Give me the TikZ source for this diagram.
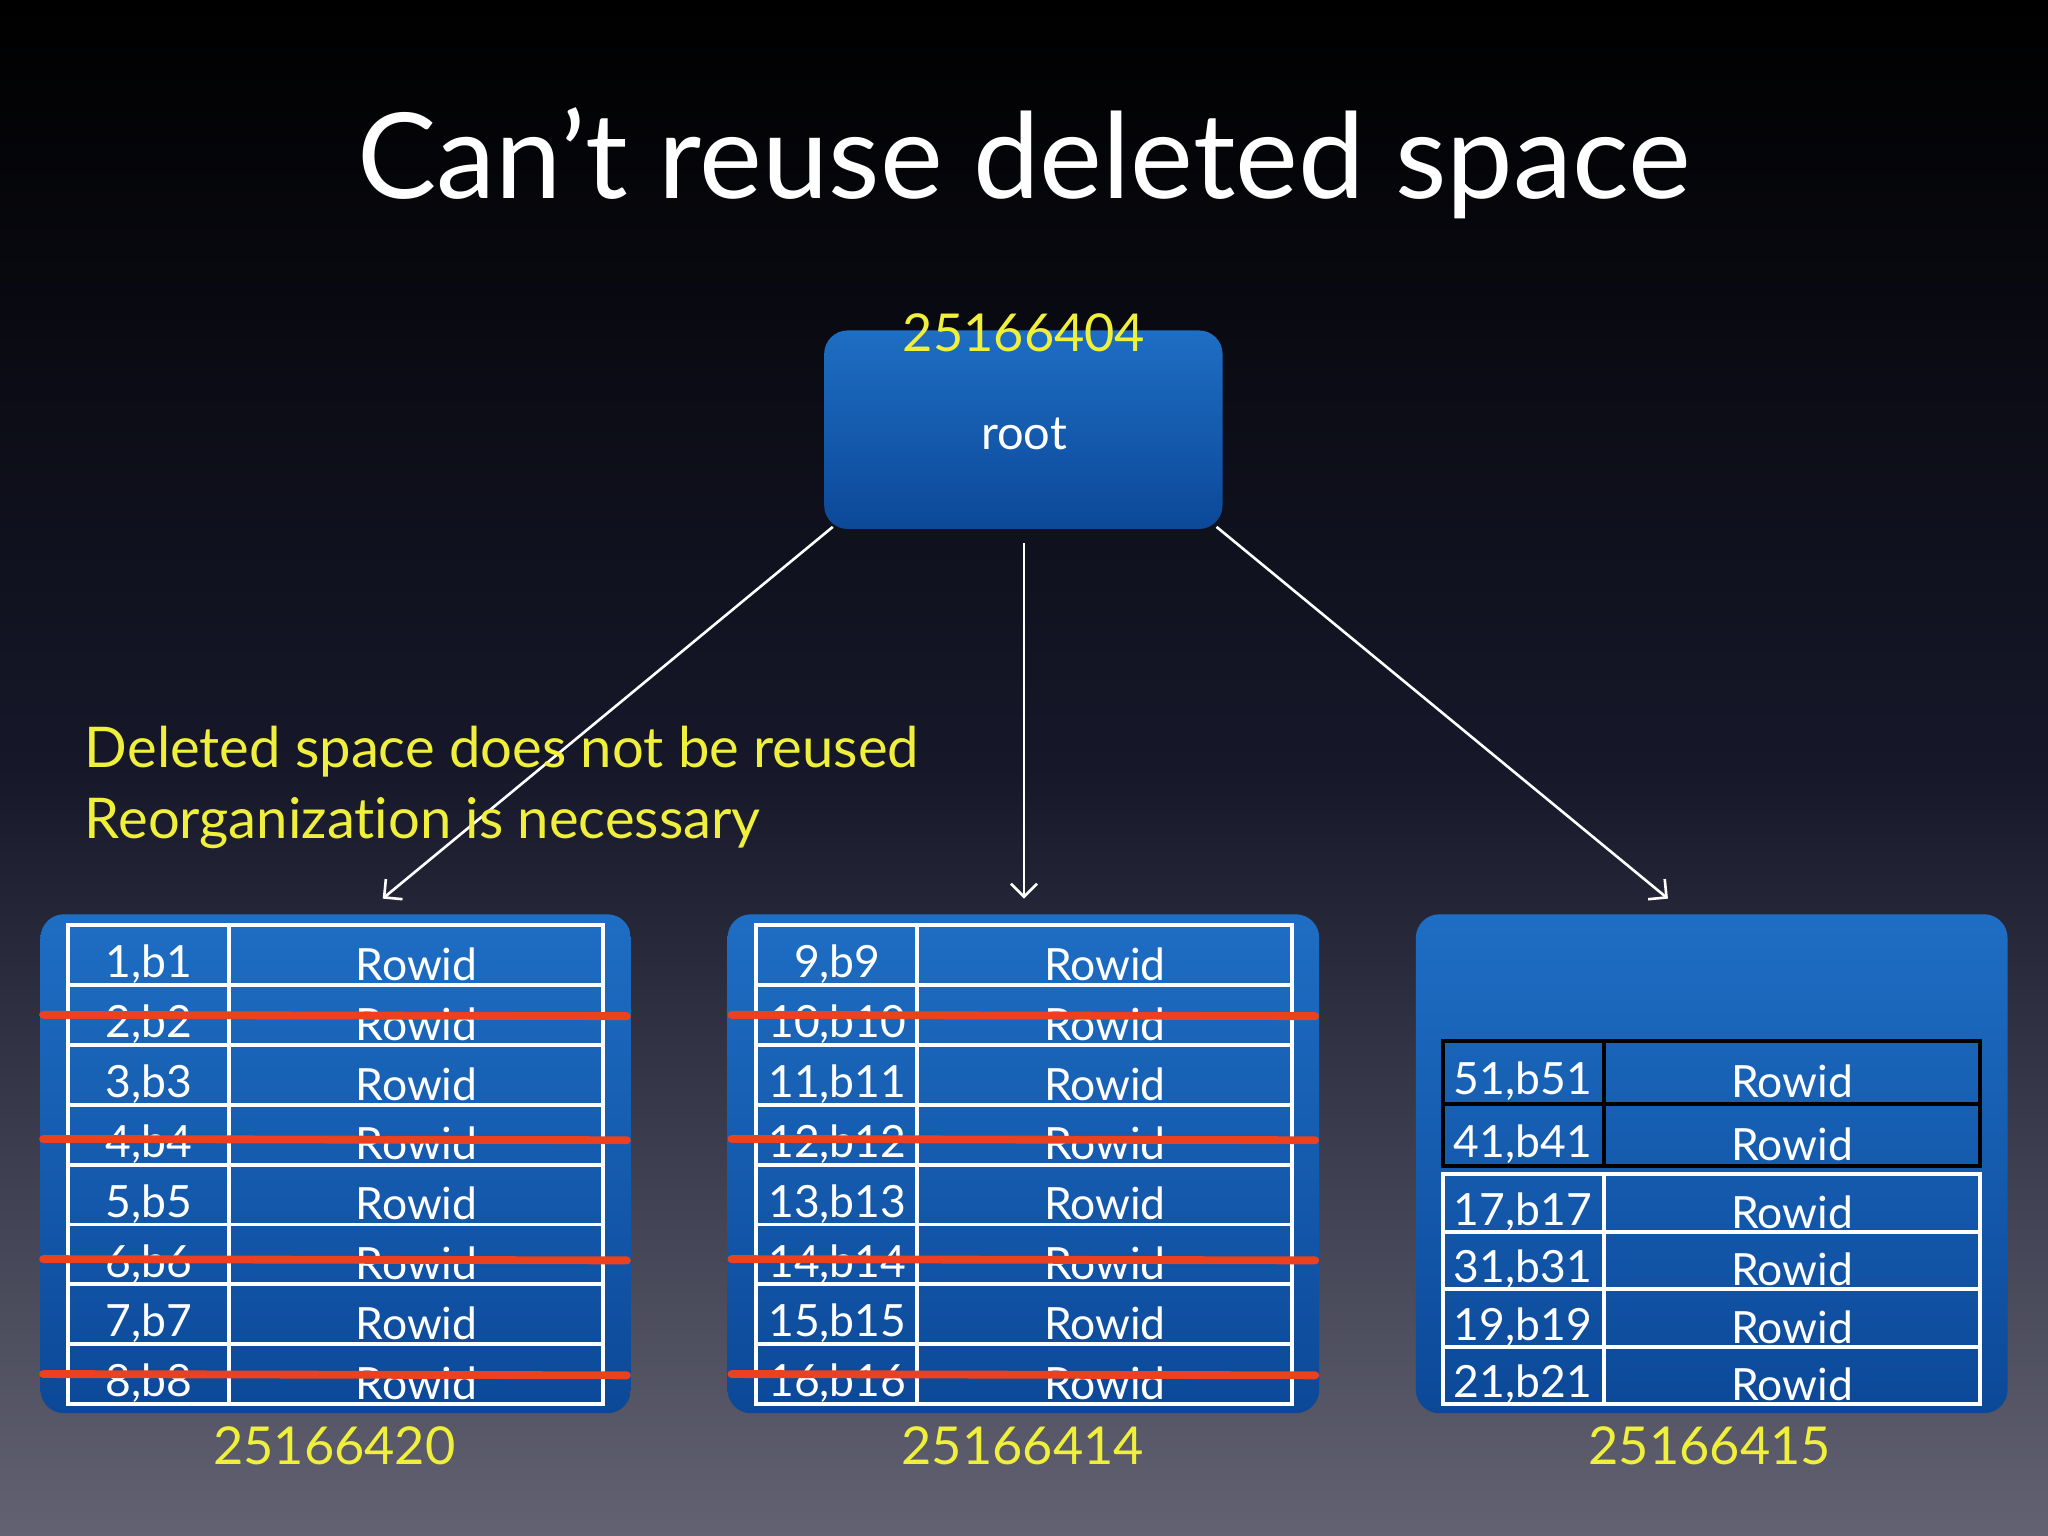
\documentclass[tikz,border=0pt]{standalone}
\usepackage{fontspec}
\setmainfont{Lato}[Ligatures=NoCommon]
\begin{document}
\begin{tikzpicture}[x=0.5pt,y=-0.5pt,
  blk/.style={rounded corners=9pt,top color=blue1,bottom color=blue2,draw=none},
  yel/.style={text=ylw,font=\fontsize{20}{24}\selectfont},
  cell/.style={text=white,font=\fontsize{17}{20}\selectfont},
  arr/.style={white,line width=1pt,-{Straight Barb[length=5pt]}},
  strike/.style={strk,line width=3pt,line cap=round}]
\definecolor{blue1}{RGB}{30,110,196}
\definecolor{blue2}{RGB}{12,72,152}
\definecolor{ylw}{RGB}{240,240,60}
\definecolor{strk}{RGB}{235,65,30}
\usetikzlibrary{arrows.meta}
\shade[top color=black,bottom color={rgb,255:red,98;green,98;blue,114},middle color={rgb,255:red,22;green,24;blue,42}] (0,0) rectangle (1568,1176);
\useasboundingbox (0,0) rectangle (1568,1176);
\node[text=white,font=\fontsize{45.5}{52}\selectfont] (title) at (784,125) {Can’t reuse deleted space};
% root
\node[blk,minimum width=152.5pt,minimum height=76pt] (root) at (783.5,329) {};
\node[text=white,font=\fontsize{18}{22}\selectfont] (rootlbl) at (784,332) {root};
\node[yel] (rootnum) at (784,255) {25166404};
% boxes
\node[blk,minimum width=226pt,minimum height=191pt] (bl) at (257,891) {};
\node[blk,minimum width=226.5pt,minimum height=191pt] (bm) at (783.5,891) {};
\node[blk,minimum width=226.5pt,minimum height=191pt] (br) at (1310.5,891) {};
\coordinate (tl) at (293,688);
\coordinate (tm) at (784,688);
\coordinate (tr) at (1277,688);
\draw[arr] (root.south west)++(7,-2) -- (tl);
\draw[arr] (784,416) -- (tm);
\draw[arr] (root.south east)++(-5,-2) -- (tr);
\node[yel,anchor=west,align=left,font=\fontsize{21.5}{27}\selectfont] (note) at (58,603) {Deleted space does not be reused\\Reorganization is necessary};
% tables
\foreach \x/\s in {52/1,579/9}{
  \foreach \i in {0,...,7}{
    \pgfmathtruncatemacro{\n}{\s+\i}
    \pgfmathsetmacro{\y}{708+\i*45.9}
    \draw[white,line width=1.5pt] (\x,\y) rectangle (\x+410,\y+45.9);
    \draw[white,line width=1.5pt] (\x+123,\y) -- (\x+123,\y+45.9);
    \node[cell] at (\x+62,\y+30) {\n,b\n};
    \node[cell] at (\x+267,\y+30) {Rowid};
  }
}
\foreach \x in {33,560}{
  \foreach \y in {777,872,964,1052}{
    \draw[strike] (\x,\y) -- (\x+447,\y+1);
  }
}
% right box
\foreach \i/\k in {0/51,1/41}{
  \pgfmathsetmacro{\y}{797+\i*48}
  \draw[black,line width=1.5pt] (1105,\y) rectangle (1516,\y+48);
  \draw[black,line width=1.5pt] (1228,\y) -- (1228,\y+48);
  \node[cell] at (1166,\y+31) {\k,b\k};
  \node[cell] at (1372,\y+31) {Rowid};
}
\foreach \i/\k in {0/17,1/31,2/19,3/21}{
  \pgfmathsetmacro{\y}{899+\i*44}
  \draw[white,line width=1.5pt] (1105,\y) rectangle (1516,\y+44);
  \draw[white,line width=1.5pt] (1228,\y) -- (1228,\y+44);
  \node[cell] at (1166,\y+29) {\k,b\k};
  \node[cell] at (1372,\y+29) {Rowid};
}
\node[yel] (n1) at (256,1107) {25166420};
\node[yel] (n2) at (783,1107) {25166414};
\node[yel] (n3) at (1309,1107) {25166415};
\end{tikzpicture}
\end{document}
